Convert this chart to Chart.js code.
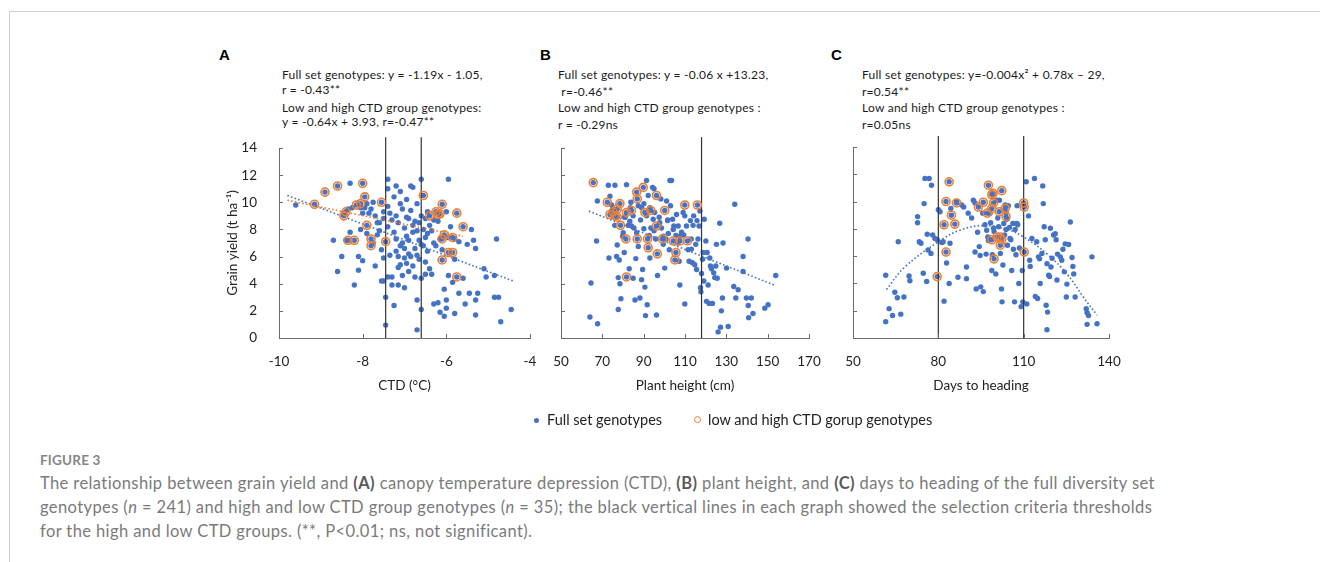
<!DOCTYPE html>
<html>
<head>
<meta charset="utf-8">
<title>Figure 3</title>
<script src="https://cdn.jsdelivr.net/npm/chart.js@4.4.1/dist/chart.umd.min.js"></script>
<style>
  body { margin: 0; width: 1320px; height: 562px; background: #fff; position: relative; overflow: hidden; font-family: Lato, sans-serif; }
  .frame { position: absolute; left: 9px; top: 11px; width: 1320px; height: 560px; border-left: 1px solid #cfcfcf; border-top: 1px solid #cfcfcf; }
  canvas { position: absolute; }
  .letter { position: absolute; font: bold 15px "Liberation Sans", Arial, sans-serif; color: #000; line-height: 16px; }
  .note { position: absolute; font-size: 12px; letter-spacing: 0.25px; line-height: 14px; color: #1a1a1a; white-space: pre; }
  .legend { position: absolute; top: 411px; font-size: 14.5px; line-height: 18px; color: #222; white-space: nowrap; }
  .dot { position: absolute; width: 5px; height: 5px; border-radius: 50%; background: #4472C4; top: 418px; }
  .ring { position: absolute; width: 5px; height: 5px; border-radius: 50%; border: 1.6px solid #ED7D31; top: 416px; }
  .figno { position: absolute; left: 40px; top: 452px; font-size: 13.5px; font-weight: bold; color: #858585; letter-spacing: 0.2px; }
  .cap { position: absolute; left: 40px; font-size: 16.5px; letter-spacing: 0.4px; line-height: 20px; color: #7a7a7a; white-space: nowrap; }
  .cap b { color: #5a5a5a; }
</style>
</head>
<body>
<div class="frame"></div>

<div class="letter" style="left:219px;top:47px">A</div>
<div class="letter" style="left:540px;top:47px">B</div>
<div class="letter" style="left:831px;top:47px">C</div>

<div class="note" style="left:282px;top:68px">Full set genotypes: y = -1.19x - 1.05,</div>
<div class="note" style="left:282px;top:83px">r = -0.43**</div>
<div class="note" style="left:282px;top:101px">Low and high CTD group genotypes:</div>
<div class="note" style="left:282px;top:115px">y = -0.64x + 3.93, r=-0.47**</div>

<div class="note" style="left:558px;top:68px">Full set genotypes: y = -0.06 x +13.23,</div>
<div class="note" style="left:558px;top:85px"> r=-0.46**</div>
<div class="note" style="left:558px;top:101px">Low and high CTD group genotypes :</div>
<div class="note" style="left:558px;top:118px">r = -0.29ns</div>

<div class="note" style="left:862px;top:68px">Full set genotypes: y=-0.004x² + 0.78x – 29,</div>
<div class="note" style="left:862px;top:85px">r=0.54**</div>
<div class="note" style="left:862px;top:101px">Low and high CTD group genotypes :</div>
<div class="note" style="left:862px;top:118px">r=0.05ns</div>

<canvas id="chartA" width="345" height="272" style="left:200px;top:128px"></canvas>
<canvas id="chartB" width="300" height="272" style="left:530px;top:128px"></canvas>
<canvas id="chartC" width="310" height="273" style="left:822px;top:127px"></canvas>

<div class="dot" style="left:534px"></div>
<div class="legend" style="left:547px">Full set genotypes</div>
<div class="ring" style="left:694px"></div>
<div class="legend" style="left:708px">low and high CTD gorup genotypes</div>

<div class="figno">FIGURE 3</div>
<div class="cap" style="top:473px">The relationship between grain yield and <b>(A)</b> canopy temperature depression (CTD), <b>(B)</b> plant height, and <b>(C)</b> days to heading of the full diversity set</div>
<div class="cap" style="top:497px">genotypes (<i>n</i> = 241) and high and low CTD group genotypes (<i>n</i> = 35); the black vertical lines in each graph showed the selection criteria thresholds</div>
<div class="cap" style="top:521px">for the high and low CTD groups. (**, P&lt;0.01; ns, not significant).</div>

<script>
// ---- data: [x, grain yield t/ha] ----
const fullA = [
  [-9.6,9.8],[-8.7,7.2],[-8.6,4.9],[-8.5,6.0],[-8.45,9.2],[-8.4,7.2],[-8.35,9.5],[-8.3,11.4],[-8.2,3.9],[-8.25,9.6],
  [-8.1,6.0],[-8.1,5.0],[-8.05,8.0],[-8.0,5.7],[-7.95,9.6],[-7.9,7.7],[-7.85,9.2],[-7.75,7.0],[-7.75,10.0],[-7.7,9.0],
  [-7.7,5.3],[-7.65,8.5],[-7.6,7.9],[-7.55,6.5],[-7.5,9.3],[-7.5,8.8],[-7.5,4.2],[-7.45,3.0],[-7.45,0.95],[-7.4,11.7],
  [-7.4,11.0],[-7.4,9.7],[-7.4,8.2],[-7.35,6.1],[-7.3,4.5],[-7.3,3.9],[-7.25,10.4],[-7.2,11.2],[-7.2,9.0],[-7.2,7.3],
  [-7.15,8.5],[-7.15,3.9],[-7.1,10.8],[-7.1,6.8],[-7.1,5.4],[-7.05,9.5],[-7.05,4.6],[-7.0,8.1],[-7.0,5.9],[-7.0,3.7],
  [-6.95,10.2],[-6.95,7.5],[-6.9,8.8],[-6.9,6.2],[-6.9,4.9],[-6.85,11.2],[-6.85,9.4],[-6.8,11.1],[-6.8,7.8],[-6.8,5.3],
  [-6.75,8.6],[-6.75,6.6],[-6.7,9.9],[-6.7,0.6],[-6.7,2.8],[-6.65,7.2],[-6.65,5.8],[-6.6,11.7],[-6.6,9.0],[-6.6,6.9],
  [-6.6,2.1],[-6.55,8.0],[-6.5,8.8],[-6.5,7.4],[-6.5,4.7],[-6.45,9.3],[-6.45,6.4],[-6.4,8.3],[-6.4,5.1],[-6.35,4.7],
  [-6.3,7.0],[-6.3,2.5],[-6.25,6.8],[-6.2,8.6],[-6.2,2.6],[-6.15,7.3],[-6.15,1.9],[-6.1,6.5],[-6.05,3.6],[-6.05,1.6],
  [-6.0,9.3],[-6.0,2.8],[-6.0,2.2],[-5.95,11.7],[-5.95,7.4],[-5.95,4.6],[-5.9,8.2],[-5.85,4.1],[-5.8,7.3],[-5.8,5.8],
  [-5.8,1.8],[-5.7,7.1],[-5.7,3.3],[-5.6,4.4],[-5.55,2.5],[-5.5,6.9],[-5.45,3.3],[-5.4,8.0],[-5.35,7.2],[-5.3,6.6],
  [-5.3,2.8],[-5.3,1.7],[-5.25,3.3],[-5.1,5.1],[-5.05,4.5],[-4.85,4.6],[-4.85,3.0],[-4.8,7.3],[-4.75,3.0],[-4.7,1.2],
  [-4.45,2.1],[-7.35,9.2],[-7.3,8.7],[-7.25,7.8],[-7.2,6.4],[-7.15,5.2],[-7.1,9.9],[-7.05,7.0],[-7.0,6.6],[-6.95,8.9],
  [-6.9,7.2],[-6.85,6.0],[-6.8,8.3],[-6.75,4.5],[-6.7,7.9],[-6.7,6.1],[-6.65,8.5],[-6.6,4.4],[-6.55,6.8],[-6.5,5.6],
  [-7.6,8.5],[-7.65,7.6],[-7.8,9.5],[-7.9,9.9],[-8.0,9.2],[-8.05,9.6],[-8.3,7.8],[-7.55,4.2],[-7.5,5.9],[-7.4,4.5],
  [-7.25,2.4],[-7.15,6.0],[-6.95,5.5],[-6.45,7.7],[-6.35,7.9],[-6.3,8.7]
];
const groupA = [
  [-9.15,9.85],[-8.9,10.75],[-8.6,11.2],[-8.45,9.0],[-8.4,9.3],[-8.35,7.2],[-8.2,7.2],[-8.15,9.8],[-8.05,9.9],[-8.0,11.4],
  [-7.95,10.4],[-7.9,8.3],[-7.8,7.3],[-7.8,6.8],[-7.55,10.0],[-7.45,7.1],[-6.55,10.5],[-6.4,9.0],[-6.25,9.3],[-6.2,9.1],
  [-6.15,9.15],[-6.1,9.85],[-6.05,7.6],[-6.1,7.3],[-6.1,5.75],[-5.95,6.3],[-5.85,6.3],[-5.85,7.4],[-5.75,9.2],[-5.6,8.2],
  [-5.75,4.5]
];
const trendFullA = [[-9.8,10.5],[-4.4,4.2]];
const trendGroupA = [[-9.8,10.15],[-5.6,7.5]];
const thresholdsA = [-7.45, -6.6];

const fullB = [
  [64,1.55],[64.5,4.05],[67.2,7.15],[67.7,1.05],[67.6,10.1],[72.9,11.25],[73.2,5.9],[73.7,10.45],[74.5,9.8],[76.1,11.25],
  [76.9,6.0],[77.2,6.85],[77.7,4.45],[78.2,5.75],[77.7,2.1],[78.5,4.0],[79.0,2.9],[79.8,7.5],[80.1,7.75],[80.6,6.3],
  [80.8,8.9],[81.7,11.3],[83.0,5.1],[83.3,8.6],[83.8,10.0],[84.1,8.25],[84.9,4.4],[85.8,2.8],[86.2,5.85],[86.6,7.75],
  [87.4,6.75],[88.2,2.95],[88.5,8.7],[89.0,4.3],[89.5,5.05],[90.1,8.05],[90.6,3.75],[90.9,1.65],[91.4,11.6],[91.7,2.45],
  [92.2,10.5],[92.7,9.5],[93.0,5.9],[93.5,8.1],[94.3,11.1],[95.0,11.0],[95.3,9.25],[95.8,7.3],[96.2,1.7],[96.7,4.6],
  [97.5,8.9],[98.3,10.25],[98.6,8.1],[99.5,7.5],[100.2,5.15],[101.1,10.1],[101.6,8.65],[101.9,7.7],[102.4,6.5],[102.7,11.6],
  [103.5,11.6],[103.0,9.75],[104.0,8.75],[104.6,8.25],[105.6,7.55],[105.9,9.1],[106.4,7.0],[107.2,5.65],[107.5,3.9],[108.3,7.8],
  [109.1,9.25],[109.4,7.6],[109.9,2.5],[110.7,8.25],[111.5,6.5],[112.0,5.65],[112.6,8.65],[113.1,6.55],[113.6,5.55],[113.9,8.3],
  [114.2,9.0],[114.7,5.4],[115.2,6.9],[115.6,5.05],[115.8,8.65],[116.3,7.3],[116.8,8.25],[117.2,9.35],[117.5,3.7],[117.7,3.4],
  [118.0,4.75],[118.5,5.8],[118.8,6.3],[119.3,8.75],[119.1,4.2],[120.1,7.15],[120.4,2.7],[120.7,6.3],[121.2,3.9],[121.7,2.55],
  [122.0,5.9],[122.3,5.3],[122.8,5.1],[123.3,2.55],[123.9,4.8],[124.4,4.45],[124.9,5.3],[125.2,6.9],[125.6,4.4],[126.0,0.45],
  [126.8,8.45],[127.2,0.8],[127.6,2.0],[128.1,2.95],[128.4,7.0],[130.1,5.15],[130.9,0.85],[133.6,3.8],[134.1,9.85],[134.6,2.95],
  [135.7,3.55],[138.1,6.0],[138.1,4.9],[139.7,2.95],[140.5,7.3],[140.6,2.4],[140.8,1.5],[142.1,2.95],[142.9,1.8],[148.6,2.2],
  [150.2,2.45],[153.9,4.6],[75,9.5],[76,8.3],[81,8.9],[82.5,8.3],[83.5,9.6],[84.9,9.0],[85.3,8.1],[87.4,9.75],
  [89,9.6],[90.1,9.9],[91.4,9.0],[92.7,7.55],[93.0,9.6],[94.6,8.75],[95,7.9],[97.8,8.5],[99.5,6.9],[100.8,7.3],
  [101.6,8.7],[104.3,8.0],[106.7,8.25],[107.5,7.5],[109.9,9.0],[113,7.3]
];
const groupB = [
  [65.6,11.45],[72.4,10.0],[73.7,9.1],[76.1,9.0],[77.2,8.9],[78.5,9.9],[78.8,8.3],[81.7,9.25],[81.4,7.3],[81.7,4.5],
  [84.1,9.4],[86.6,10.75],[86.9,10.25],[86.9,7.3],[89.8,11.1],[90.6,9.25],[91.9,7.3],[92.2,6.65],[93.4,9.4],[96.2,10.5],
  [96.2,8.25],[96.6,6.2],[99.1,7.3],[100.2,9.4],[104.3,7.15],[105.6,6.3],[105.1,5.75],[107.5,7.15],[109.9,9.8],[111.2,7.15],
  [116.0,9.8],[75.2,9.3],[77.2,9.5]
];
const trendFullB = [[63.5,9.35],[154,3.85]];
const thresholdsB = [118];

const fullC = [
  [61.5,4.6],[61.5,1.2],[62.7,2.15],[63.9,1.65],[64.7,3.35],[65.6,2.95],[65.9,7.05],[66.8,1.75],[67.9,3.0],[69.7,4.55],
  [70,4.2],[72.7,8.9],[72.7,8.45],[73.3,7.05],[73.9,6.95],[74.7,4.75],[75,9.85],[75.3,11.7],[75.9,4.15],[76.1,7.6],
  [76.4,6.45],[76.8,11.7],[77.6,11.2],[77.4,6.2],[78,7.55],[78.8,7.3],[79.6,7.2],[80,9.4],[80.6,9.25],[81.2,7.0],
  [81.7,7.05],[82.0,2.7],[82.9,5.5],[83.8,4.0],[84.1,6.95],[84.4,9.5],[86.4,10],[86.9,4.45],[88.2,9.75],[88.9,9.6],
  [89.9,4.35],[90.5,9.15],[89.9,5.2],[91.7,8.8],[92.3,10.1],[92.9,9.9],[92.9,6.3],[93.3,3.6],[93.8,7.75],[94.4,6.7],
  [94.7,6.05],[94.9,3.75],[95.6,9.15],[95.8,3.4],[96.4,8.3],[96.8,6.15],[97.0,7.9],[97.4,7.4],[97.6,7.15],[98.2,9.15],
  [98.4,8.45],[98.8,4.95],[99.0,6.1],[99.4,8.05],[99.6,7.8],[100.2,4.7],[100.6,10.1],[100.9,8.8],[101.2,8.15],[101.5,10.1],
  [101.8,6.2],[102.2,3.6],[102.4,2.65],[102.7,5.35],[103,8.4],[103.3,7.55],[103.5,9.75],[103.8,9.2],[103.8,7.95],[104.1,8.7],
  [104.3,6.8],[104.6,9.7],[105,8.1],[105.2,7.3],[105.5,7.2],[105.8,4.95],[106.2,8.4],[106.4,6.5],[106.8,2.65],[107,7.95],
  [107.3,6.1],[107.6,8.4],[107.7,9.7],[107.9,8.3],[108.3,4.0],[108.5,6.6],[109.1,2.3],[109.5,4.95],[109.7,2.65],[110.9,11.45],
  [111.1,2.5],[111.7,8.95],[112.1,5.7],[112.3,5.25],[112.9,7.3],[113.8,11.7],[114.1,3.05],[114.6,7.05],[114.9,2.9],[115.2,5.95],
  [115.6,5.8],[115.8,4.0],[116.4,6.2],[116.7,11.15],[116.9,9.85],[117.2,8.15],[117.6,7.2],[117.9,2.4],[118.2,5.45],[118.4,1.9],
  [118.8,4.6],[119.1,4.5],[118.2,0.6],[119.4,8.05],[119.6,5.2],[120,5.85],[120.5,7.55],[121.1,7.65],[121.4,7.2],[121.7,4.25],
  [121.9,6.15],[122.9,5.95],[123.4,5.7],[123.8,6.5],[124.3,4.85],[124.6,6.9],[125,3.0],[125.2,3.95],[125.8,6.85],[126.4,8.5],
  [127,5.9],[127.3,5.25],[127.6,4.7],[128.1,3.0],[132.0,2.15],[132.3,1.85],[132.8,1.65],[132.3,1.0],[134,5.95],[135.8,1.05]
];
const groupC = [
  [83.8,11.45],[82.7,10.0],[86.4,9.9],[84.6,9.0],[85.8,8.35],[82.0,8.3],[82.7,6.3],[79.6,4.5],[97.6,11.2],[98.8,10.5],
  [99.2,10.6],[102.3,10.8],[95.8,9.95],[94.1,9.6],[97.2,9.15],[98.8,9.5],[99.4,9.9],[101.4,9.25],[103.5,9.5],[103.8,8.9],
  [100.6,7.4],[101.8,7.4],[102.3,7.2],[98.8,7.2],[101.8,6.8],[99.6,5.8],[110,9.9],[110.2,9.6],[110.2,6.3]
];
// quadratic trend
const trendFullC = [[61.75,3.55],[68.2,5.2],[80,7.05],[87.6,7.9],[95.8,8.24],[104,7.97],[110,7.4],[118,6.2],[125.2,4.7],[131,3.0],[135.8,1.67]];
const thresholdsC = [80, 110];

// ---- tick labels ----
const ticksXA = [-10, -8, -6, -4];
const ticksXB = [50, 70, 90, 110, 130, 150, 170];
const ticksXC = [50, 80, 110, 140];
const ticksY = [0, 2, 4, 6, 8, 10, 12, 14];
const lineTop = 14.8; // threshold lines run a little above the top tick

const BLUE = '#4472C4';
const ORANGE = '#ED7D31';
const AXIS = '#6b6b6b';
const TEXT = '#222';

const toXY = arr => arr.map(([x, y]) => ({ x, y }));

// Excel-style tick marks that point into the plot
const insideTicks = {
    id: 'insideTicks',
    afterDraw(chart) {
        const { ctx, chartArea: a, scales: { x, y } } = chart;
        ctx.save();
        ctx.strokeStyle = AXIS;
        ctx.lineWidth = 1;
        ctx.beginPath();
        x.ticks.forEach(t => {
            const px = Math.round(x.getPixelForValue(t.value)) + 0.5;
            ctx.moveTo(px, a.bottom);
            ctx.lineTo(px, a.bottom - 4);
        });
        y.ticks.forEach(t => {
            const py = Math.round(y.getPixelForValue(t.value)) + 0.5;
            ctx.moveTo(a.left, py);
            ctx.lineTo(a.left + 4, py);
        });
        ctx.stroke();
        ctx.restore();
    }
};

function buildPanel(id, p) {
    const datasets = [
        {
            label: 'low and high CTD gorup genotypes',
            data: toXY(p.group),
            pointRadius: 4,
            pointBorderWidth: 1.6,
            pointBorderColor: ORANGE,
            pointBackgroundColor: 'rgba(0,0,0,0)'
        }
    ];
    p.thresholds.forEach(x => {
        datasets.push({
            data: [{ x, y: 0 }, { x, y: lineTop }],
            showLine: true,
            borderColor: '#333',
            borderWidth: 1.2,
            pointRadius: 0,
            clip: false
        });
    });
    p.trends.forEach(t => {
        datasets.push({
            data: toXY(t.data),
            showLine: true,
            borderColor: t.color,
            borderWidth: 1.6,
            borderDash: [1.6, 2.2],
            tension: t.tension || 0,
            pointRadius: 0
        });
    });
    datasets.push({
        label: 'Full set genotypes',
        data: toXY(p.full.concat(p.group)),
        pointRadius: 2.7,
        pointBorderWidth: 0,
        pointBackgroundColor: BLUE
    });

    return new Chart(document.getElementById(id), {
        type: 'scatter',
        data: { datasets },
        options: {
            responsive: false,
            animation: false,
            events: [],
            layout: { padding: { left: 0, right: p.padRight, top: 20, bottom: 0 } },
            plugins: { legend: { display: false }, tooltip: { enabled: false } },
            scales: {
                x: {
                    type: 'linear',
                    min: p.xTicks[0],
                    max: p.xTicks[p.xTicks.length - 1],
                    afterBuildTicks: s => { s.ticks = p.xTicks.map(v => ({ value: v })); },
                    afterFit: s => { s.height = 62; s.paddingLeft = 0; s.paddingRight = 0; },
                    grid: { display: false, drawTicks: false },
                    border: { display: true, color: AXIS, width: 1 },
                    ticks: { color: TEXT, font: { family: 'Lato', size: 13.5 }, padding: 16, maxRotation: 0, autoSkip: false },
                    title: { display: true, text: p.xTitle, color: TEXT, font: { family: 'Lato', size: 13.5 }, padding: { top: 0, bottom: 6 } }
                },
                y: {
                    type: 'linear',
                    min: 0,
                    max: 14,
                    afterBuildTicks: s => { s.ticks = ticksY.map(v => ({ value: v })); },
                    afterFit: s => { s.width = p.yWidth; s.paddingTop = 0; s.paddingBottom = 0; },
                    grid: { display: false, drawTicks: false },
                    border: { display: true, color: AXIS, width: 1 },
                    ticks: { display: p.yLabels, color: TEXT, font: { family: 'Lato', size: 13.5 }, padding: 22 },
                    title: { display: p.yLabels, text: 'Grain yield (t ha⁻¹)', color: TEXT, font: { family: 'Lato', size: 13.5 }, padding: { top: 25, bottom: 0 } }
                }
            }
        },
        plugins: [insideTicks]
    });
}

buildPanel('chartA', {
    full: fullA, group: groupA, thresholds: thresholdsA, xTicks: ticksXA,
    trends: [{ data: trendGroupA, color: ORANGE }, { data: trendFullA, color: BLUE }],
    xTitle: 'CTD (°C)', yLabels: true, yWidth: 79, padRight: 15
});
buildPanel('chartB', {
    full: fullB, group: groupB, thresholds: thresholdsB, xTicks: ticksXB,
    trends: [{ data: trendFullB, color: BLUE }],
    xTitle: 'Plant height (cm)', yLabels: false, yWidth: 31, padRight: 21
});
buildPanel('chartC', {
    full: fullC, group: groupC, thresholds: thresholdsC, xTicks: ticksXC,
    trends: [{ data: trendFullC, color: BLUE, tension: 0.4 }],
    xTitle: 'Days to heading', yLabels: false, yWidth: 31, padRight: 23
});
</script>
</body>
</html>
